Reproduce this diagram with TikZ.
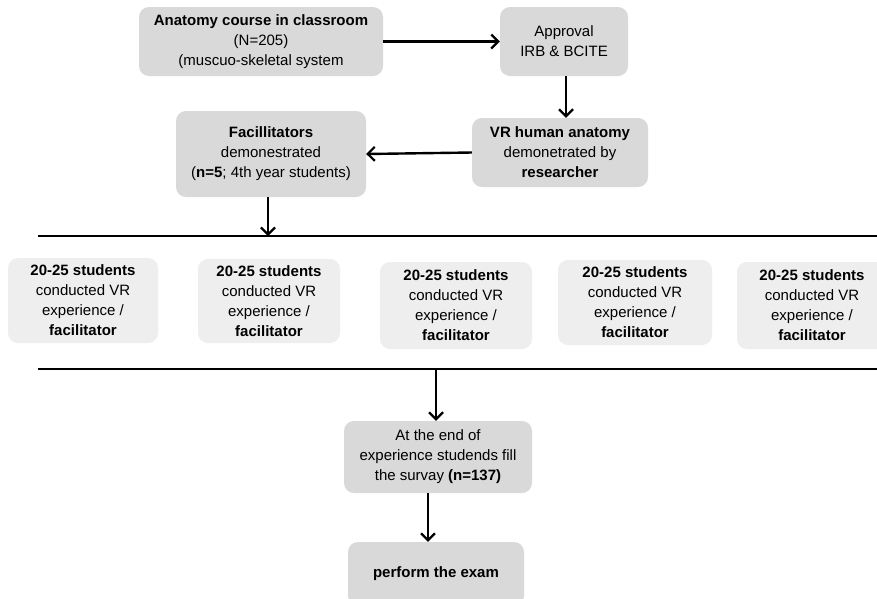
\documentclass[tikz,border=0pt]{standalone}
\usepackage{fontspec}
\setmainfont{Liberation Sans}
\usetikzlibrary{arrows.meta}
\begin{document}
\begin{tikzpicture}[x=1pt,y=-1pt,
  box/.style={rectangle, rounded corners=10pt, fill=boxgray, draw=none, align=center,
    font=\fontsize{15}{20}\selectfont, inner sep=0pt},
  sbox/.style={box, fill=sgray},
  conn/.style={line width=2.4pt, -{Straight Barb[length=7pt,width=14pt,line width=2.2pt]}},
  bar/.style={line width=2.6pt}]
\definecolor{boxgray}{HTML}{D9D9D9}
\definecolor{sgray}{HTML}{EEEEEE}
\useasboundingbox (0,0) rectangle (877,598);
\fill[white] (0,0) rectangle (877,598);
% top row
\node[box, minimum width=244pt, minimum height=69pt] (anat) at (261,41.5)
  {\textbf{Anatomy course in classroom}\\(N=205)\\(muscuo-skeletal system};
\node[box, minimum width=128pt, minimum height=69pt] (appr) at (564,41.5)
  {Approval\\IRB \& BCITE};
\node[box, minimum width=176pt, minimum height=69pt] (vr) at (560,152.5)
  {\textbf{VR human anatomy}\\demonetrated by\\\textbf{researcher}};
\node[box, minimum width=190pt, minimum height=86pt] (fac) at (271,154)
  {\textbf{Facillitators}\\demonestrated\\(\textbf{n=5}; 4th year students)};
% bars
\coordinate (l1a) at (38,236);
\coordinate (l1b) at (877,236);
\coordinate (l2a) at (38,369);
\coordinate (l2b) at (877,369);
\draw[bar] (l1a) -- (l1b);
\draw[bar] (l2a) -- (l2b);
% students
\node[sbox, minimum width=150pt, minimum height=85pt] (s1) at (83,300.5)
  {\textbf{20-25 students}\\conducted VR\\experience /\\\textbf{facilitator}};
\node[sbox, minimum width=142pt, minimum height=84pt] (s2) at (269,301)
  {\textbf{20-25 students}\\conducted VR\\experience /\\\textbf{facilitator}};
\node[sbox, minimum width=152pt, minimum height=87pt] (s3) at (456,305.5)
  {\textbf{20-25 students}\\conducted VR\\experience /\\\textbf{facilitator}};
\node[sbox, minimum width=154pt, minimum height=85pt] (s4) at (635,302.5)
  {\textbf{20-25 students}\\conducted VR\\experience /\\\textbf{facilitator}};
\node[sbox, minimum width=150pt, minimum height=87pt] (s5) at (812,305.5)
  {\textbf{20-25 students}\\conducted VR\\experience /\\\textbf{facilitator}};
% bottom
\node[box, minimum width=188pt, minimum height=72pt] (surv) at (438,457)
  {At the end of\\experience studends fill\\the survay \textbf{(n=137)}};
\node[box, minimum width=176pt, minimum height=64pt] (exam) at (436,574)
  {\textbf{perform the exam}};
% connectors
\draw[conn] (anat.east) -- (appr.west);
\draw[conn] ([xshift=2pt]appr.south) -- ([xshift=2pt]appr.south |- vr.north);
\draw[conn] (vr.west) -- (fac.east);
\draw[conn] ([xshift=-3pt]fac.south) -- ([xshift=-3pt]fac.south |- l1a);
\draw[conn] ([xshift=-2pt]surv.north |- l2a) -- ([xshift=-2pt]surv.north);
\draw[conn] ([xshift=-10pt]surv.south) -- ([xshift=-10pt]surv.south |- exam.north);
\end{tikzpicture}
\end{document}
